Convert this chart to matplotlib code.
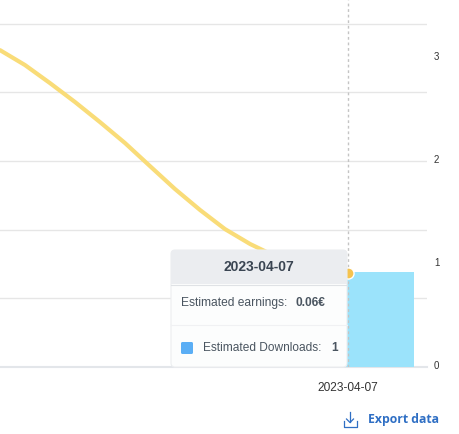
import matplotlib
matplotlib.use("Agg")
import matplotlib.pyplot as plt
from matplotlib.patches import FancyBboxPatch, Rectangle
from matplotlib.transforms import ScaledTranslation

# days relative to 2023-04-07
line_days = [-2.636, -2.447, -2.258, -2.068, -1.879, -1.689, -1.5, -1.311,
             -1.121, -0.932, -0.742, -0.553, -0.364, -0.174, 0.0]
earnings = [0.2022, 0.1927, 0.1812, 0.1691, 0.1563, 0.1429, 0.1282, 0.1136,
            0.1002, 0.0880, 0.0785, 0.0708, 0.0651, 0.0616, 0.06]
bar_days = [0]
downloads = [1]
earn_grid = [0.0438, 0.0876, 0.1314, 0.1752, 0.2190]
dl_labels = ["0", "1", "2", "3"]
dl_ticks = [0, 1.08, 2.17, 3.25]
date_label = "2023-04-07"

plt.rcParams["font.family"] = ["Liberation Sans", "DejaVu Sans"]

fig = plt.figure(figsize=(4.59, 4.34), dpi=100)
ax = fig.add_axes([0, 67 / 434, 427 / 459, 367 / 434])
ax.set_xlim(-2.636, 0.598)
ax.set_ylim(0, 0.2342)
ax.set_yticks(earn_grid)
ax.tick_params(axis="y", length=0, labelleft=False)
ax.grid(axis="y", color="#e6e6e6", lw=1)
ax.set_axisbelow(True)
for s in ax.spines.values():
    s.set_visible(False)
ax.spines["bottom"].set_visible(True)
ax.spines["bottom"].set_color("#e3e6ea")
ax.spines["bottom"].set_linewidth(1.5)
ax.set_xticks(bar_days)
ax.set_xticklabels([date_label], fontsize=8.6, color="#333333")
ax.tick_params(axis="x", length=0, pad=11)

ax2 = ax.twinx()
ax2.set_ylim(0, 3.863)
ax2.bar(bar_days, downloads, width=1.0, color="#9be3fb", zorder=2)
ax2.set_yticks(dl_ticks)
ax2.set_yticklabels(dl_labels, fontsize=7, color="#333333")
ax2.tick_params(axis="y", length=0, pad=5)
for s in ax2.spines.values():
    s.set_visible(False)
# labels sit a little above their ticks
for lbl in ax2.get_yticklabels():
    lbl.set_transform(lbl.get_transform() + ScaledTranslation(0, 2 / 72 * 0.72, fig.dpi_scale_trans))

# line on top of the bar, same scale as the grid
ax3 = ax.twinx()
ax3.set_ylim(ax.get_ylim())
ax3.axis("off")
ax3.axvline(0, color="#c4c4c4", lw=1, ls=(0, (2, 2)), zorder=1)
ax3.plot(line_days, earnings, color="#f9dc78", lw=3, solid_capstyle="round", zorder=3)
ax3.plot([0], [earnings[-1]], "o", ms=8, color="#f5c34e", mec="white", mew=1, zorder=4)

# tooltip and export link, in pixels
ov = fig.add_axes([0, 0, 1, 1], zorder=10)
ov.set_xlim(0, 459)
ov.set_ylim(434, 0)
ov.axis("off")
ov.patch.set_alpha(0)

ov.add_patch(FancyBboxPatch((172, 251), 175, 117, boxstyle="round,pad=0,rounding_size=4",
                            fc="#e6e8eb", ec="none", alpha=0.6))
ov.add_patch(FancyBboxPatch((171, 250), 176, 117, boxstyle="round,pad=0,rounding_size=4",
                            fc="#fcfdfd", ec="#eceef0", lw=0.8))
ov.add_patch(FancyBboxPatch((171, 250), 176, 34, boxstyle="round,pad=0,rounding_size=4",
                            fc="#ebedf0", ec="none"))
ov.add_patch(Rectangle((171, 270), 176, 14, fc="#ebedf0", ec="none"))
ov.plot([171, 347], [284.5, 284.5], color="#dfe2e5", lw=0.8)
ov.plot([171, 347], [324.5, 324.5], color="#f0f1f3", lw=0.8)
ov.text(259, 267, date_label, ha="center", va="center", fontsize=10, fontweight="bold", color="#3a4552")
ov.text(181, 303, "Estimated earnings:", ha="left", va="center", fontsize=8.65, color="#4a5560")
ov.text(296, 303, "0.06€", ha="left", va="center", fontsize=8.6, fontweight="bold", color="#4a5560")
ov.add_patch(FancyBboxPatch((181, 342), 12, 12, boxstyle="round,pad=0,rounding_size=1.5",
                            fc="#5aaef5", ec="none"))
ov.text(203, 348, "Estimated Downloads:", ha="left", va="center", fontsize=8.6, color="#4a5560")
ov.text(331, 348, "1", ha="left", va="center", fontsize=8.6, fontweight="bold", color="#4a5560")

blue = "#2f6fc4"
ov.text(368, 419, "Export data", ha="left", va="center", fontsize=8.8, fontweight="bold",
        family=["Open Sans", "DejaVu Sans"], color=blue)
ov.plot([350, 350], [412, 422], color=blue, lw=0.9)
ov.plot([346.5, 350, 353.5], [419, 422.5, 419], color=blue, lw=0.9)
ov.plot([343.5, 343.5, 356.5, 356.5], [421, 426.5, 426.5, 421], color=blue, lw=0.9)

fig.savefig("out.png", dpi=100)
